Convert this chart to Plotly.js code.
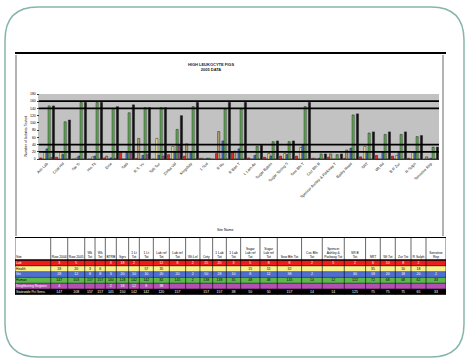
<!DOCTYPE html>
<html><head><meta charset="utf-8">
<script src="https://cdn.plot.ly/plotly-3.0.1.min.js"></script>
<style>html,body{margin:0;padding:0;background:#fff}#chart{width:465px;height:358px}</style>
</head><body><div id="chart"></div><script>
// ---------- data ----------
const sites = ['Ash Lab','Coal Hill','Sai Tr','Hin Tk','Eme','Satti','R.S. Yu','Salt Sur','Zorba Val','Kingsbay','1 Sud','R Ru','R Barr T','L Lam Air','Sugar Bakes','Sugar Strong S','Sow Bfn T','Coc Bfn B','Spencer Ashley & Parkway T','Bailey Road','SRT','Wt Rd','B R Zur','R Sulph','Sensitive Rep'];
const redVals     = [3,5,0,0,3,18,2,0,12,8,2,15,20,3,5,8,8,2,5,2,6,10,8,2,0];
const tanVals     = [0,0,0,0,8,0,57,0,0,42,2,76,22,0,0,0,0,2,14,25,0,0,0,0,6];
const yellowVals  = [18,20,3,6,0,0,0,57,35,0,0,0,0,0,15,15,32,0,0,0,35,0,10,18,0];
const blueVals    = [28,12,8,8,3,20,10,10,20,20,2,50,28,10,8,12,38,2,0,30,18,20,18,20,2];
const greenVals   = [147,103,157,157,140,128,142,142,82,145,2,138,138,35,48,48,145,14,12,122,72,68,68,62,33];
const magentaVals = [4,0,0,0,2,18,12,8,38,0,0,0,0,0,0,0,0,0,0,0,0,0,0,0,0];
const blackVals   = [147,108,157,157,145,150,142,142,120,157,0,157,157,38,50,50,157,14,14,125,75,75,75,65,33];
const refLines = [20,40,140,160];
const yTicks = [0,20,40,60,80,100,120,140,160,180];
const chartTitle = 'HIGH LEUKOCYTE FIGS<br>2005 DATA';
const xTitle = 'Site Name';
const yTitle = 'Number of Isolates Tested';
const tableHeaders = ['Row 2004','Row 2005','Wk<br>Tot','Wk<br>Tot','BTRB','Sgrs','1 Lt<br>Tot','1 Lt<br>Tot','Lab ref<br>Tot','Lab ref<br>Tot','Wt Lel','Cnty','1 Lab<br>Tot','1 Lab<br>Tot','Sugar<br>Lab ref<br>Tot','Sugar<br>Lab ref<br>Tot','Sow Bfn Tot','Coc Bfn<br>Tot','Spencer<br>Ashley &<br>Parkway Tot','SR B<br>Tot','SRT','Wt Tot','Zur Tot','R Sulph','Sensitive<br>Rep'];
const rowLabels = ['Lab','Health','Vet','Human','Neighboring Regions','Statewide Pct Sens.'];
const tableRows = [redVals, yellowVals, blueVals, greenVals, magentaVals, blackVals];

// ---------- styling / layout constants ----------
const W = 465, H = 358;
const px = x => x / W, py = y => 1 - y / H;
const seriesColors = ['#e3262a','#b2a377','#f4ec98','#4a6fc4','#5cb24c','#c04ab0','#111111'];
const seriesVals = [redVals, tanVals, yellowVals, blueVals, greenVals, magentaVals, blackVals];
const rowFill = ['#ee1c1c','#f8f08a','#4f6fd0','#5cb84c','#b44fb4','#000000'];
const rowText = ['#fff','#000','#fff','#000','#fff','#fff'];
const colW = [35.7,17,17,10.3,10.3,11,12.3,10.7,14,16,16.3,14.3,12.7,13.7,14.3,19.3,17.3,24.3,20.7,22,21.3,14.7,15,15.7,15,20];
const headH = 23, rowH = 5.8;

const colEdges = [0];
colW.forEach(w => colEdges.push(colEdges[colEdges.length-1] + w));
const tableW = colEdges[colEdges.length-1];
const rowEdges = [headH];
tableRows.forEach(() => rowEdges.push(rowEdges[rowEdges.length-1] + rowH));
const tableH = rowEdges[rowEdges.length-1];

const traces = [];
seriesVals.forEach((vals, i) => {
  traces.push({type:'bar', x: sites, y: vals, xaxis:'x', yaxis:'y',
    marker:{color: seriesColors[i], line:{color:'#222', width:0.5}}, hoverinfo:'skip'});
});

// table fills (heatmap on second axis pair)
const zRows = tableRows.map((r, ri) => colW.map(() => ri));
traces.push({type:'heatmap', x: colEdges, y: rowEdges, z: zRows, xaxis:'x2', yaxis:'y2',
  zmin:0, zmax:5, showscale:false, hoverinfo:'skip',
  colorscale: rowFill.map((c, i) => [i/5, c])});

// table cell texts
const cx = [], cy = [], ct = [], cc = [];
tableRows.forEach((r, ri) => {
  r.forEach((v, ci) => {
    if (v === 0) return;
    cx.push((colEdges[ci+1] + colEdges[ci+2]) / 2);
    cy.push((rowEdges[ri] + rowEdges[ri+1]) / 2);
    ct.push(String(v)); cc.push(rowText[ri]);
  });
});
traces.push({type:'scatter', mode:'text', x: cx, y: cy, text: ct, xaxis:'x2', yaxis:'y2',
  textfont:{size:3.5, color: cc, family:'Liberation Sans, Arial'}, cliponaxis:false, hoverinfo:'skip'});
// header texts
traces.push({type:'scatter', mode:'text', xaxis:'x2', yaxis:'y2', cliponaxis:false, hoverinfo:'skip',
  x: tableHeaders.map((h, i) => (colEdges[i+1] + colEdges[i+2]) / 2),
  y: tableHeaders.map(() => headH - 0.8), text: tableHeaders, textposition:'top center',
  textfont:{size:3.3, color:'#000', family:'Liberation Sans, Arial'}});
// row labels
traces.push({type:'scatter', mode:'text', xaxis:'x2', yaxis:'y2', cliponaxis:false, hoverinfo:'skip',
  x: ['Site'].concat(rowLabels).map(() => 1),
  y: [headH - 2.5].concat(rowLabels.map((l, i) => (rowEdges[i] + rowEdges[i+1]) / 2)),
  text: ['Site'].concat(rowLabels), textposition:'middle right',
  textfont:{size:3.3, color: ['#000'].concat(rowText), family:'Liberation Sans, Arial'}});

const shapes = [];
// plot area grey
shapes.push({type:'rect', xref:'x domain', yref:'y domain', x0:0, x1:1, y0:0, y1:1,
  fillcolor:'#c2c2c2', line:{width:0}, layer:'below'});
// reference lines (drawn over the bars)
refLines.forEach(v => shapes.push({type:'line', xref:'x domain', yref:'y', x0:0, x1:1, y0:v, y1:v,
  line:{color:'#000', width:1.8}, layer:'above'}));
// table grid
colEdges.forEach(e => shapes.push({type:'line', xref:'x2', yref:'y2', x0:e, x1:e, y0:0, y1:tableH,
  line:{color:'#000', width:0.6}}));
rowEdges.forEach(e => shapes.push({type:'line', xref:'x2', yref:'y2', x0:0, x1:tableW, y0:e, y1:e,
  line:{color:'#000', width: e === headH ? 1.5 : 0.5}}));
shapes.push({type:'line', xref:'x2', yref:'y2', x0:0, x1:tableW, y0:0, y1:0, line:{color:'#000', width:2}});
// frame decorations
shapes.push({type:'line', xref:'paper', yref:'paper', x0:px(15), x1:px(446), y0:py(53), y1:py(53), line:{color:'#000', width:2}});
shapes.push({type:'line', xref:'paper', yref:'paper', x0:px(16), x1:px(16), y0:py(55), y1:py(236), line:{color:'#9a9a9a', width:1.5}});
shapes.push({type:'line', xref:'paper', yref:'paper', x0:px(443), x1:px(443), y0:py(55), y1:py(236), line:{color:'#9a9a9a', width:1.5}});
// rounded slide border
(function(){
  const x0=5, y0=7, x1=464, y1=357, r=33;
  const P = (x, y) => px(x) + ',' + py(y);
  const path = 'M' + P(x0+r,y0) + ' L' + P(x1-r,y0) + ' Q' + P(x1,y0) + ' ' + P(x1,y0+r) +
    ' L' + P(x1,y1-r) + ' Q' + P(x1,y1) + ' ' + P(x1-r,y1) + ' L' + P(x0+r,y1) +
    ' Q' + P(x0,y1) + ' ' + P(x0,y1-r) + ' L' + P(x0,y0+r) + ' Q' + P(x0,y0) + ' ' + P(x0+r,y0) + ' Z';
  shapes.push({type:'path', xref:'paper', yref:'paper', path: path, line:{color:'#86b5ac', width:1.5}});
})();

const layout = {
  width: W, height: H, margin:{l:0, r:0, t:0, b:0}, paper_bgcolor:'#fff', plot_bgcolor:'rgba(0,0,0,0)',
  showlegend:false, barmode:'group', bargap:0.06, bargroupgap:0,
  font:{family:'Liberation Sans, Arial, sans-serif', size:4, color:'#000'},
  title:{text: '<b>' + chartTitle + '</b>', x: px(211), y: py(66), xref:'paper', yref:'paper',
    xanchor:'center', yanchor:'middle', font:{size:4, color:'#222'}},
  xaxis:{domain:[px(39), px(439)], range:[-0.5, 24.5], tickangle:-45, tickfont:{size:3.8, color:'#222'},
    showline:true, linecolor:'#333', linewidth:1, ticks:'', showgrid:false, zeroline:false, automargin:false, fixedrange:true},
  yaxis:{domain:[py(159), py(94)], range:[0, 180], tickvals: yTicks, ticks:'outside', ticklen:2, tickcolor:'#333',
    tickfont:{size:3.5}, showline:true, linecolor:'#888', linewidth:0.5, showgrid:false, zeroline:false, automargin:false, fixedrange:true},
  xaxis2:{domain:[px(15), px(446)], range:[0, tableW], visible:false, anchor:'y2', fixedrange:true},
  yaxis2:{domain:[py(237 + tableH), py(237)], range:[tableH, 0], visible:false, anchor:'x2', fixedrange:true},
  shapes: shapes,
  annotations:[
    {text: xTitle, xref:'paper', yref:'paper', x: px(225), y: py(230), showarrow:false, font:{size:3.5}},
    {text: yTitle, xref:'paper', yref:'paper', x: px(21), y: py(114), showarrow:false, textangle:-90, font:{size:3.5}}
  ]
};
Plotly.newPlot('chart', traces, layout, {staticPlot:true, displayModeBar:false});
</script></body></html>
